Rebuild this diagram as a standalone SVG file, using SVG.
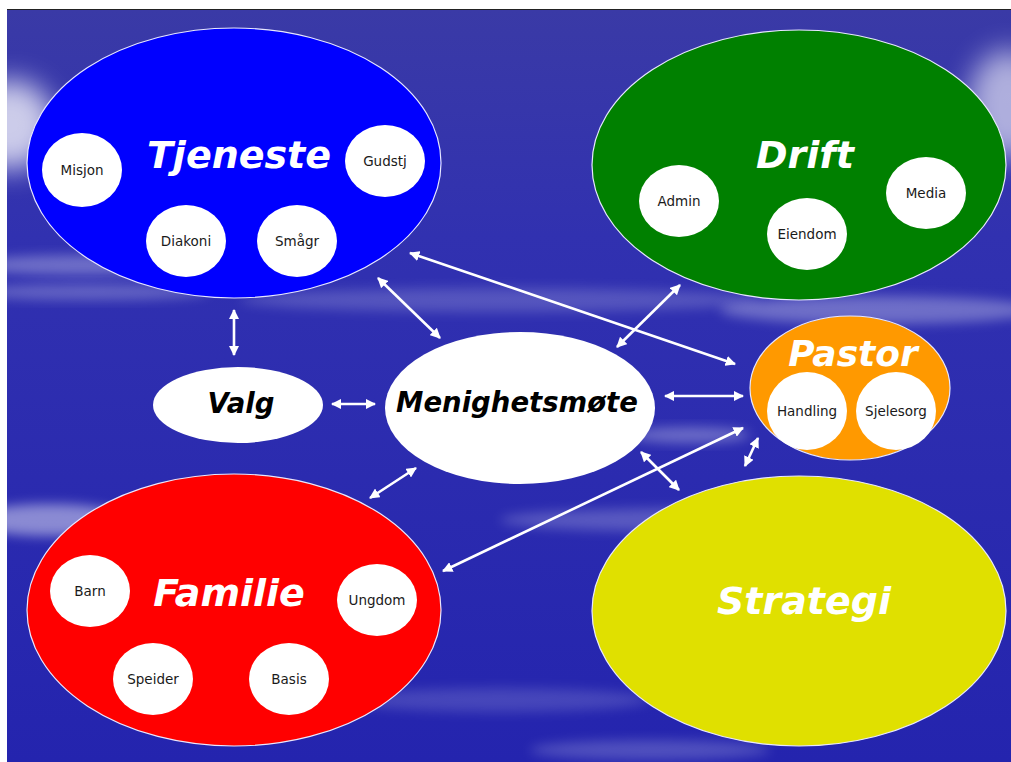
<svg xmlns="http://www.w3.org/2000/svg" width="1011" height="762" viewBox="0 0 1011 762">
<style>
.big{font-family:"DejaVu Sans",Verdana,sans-serif;font-weight:bold;font-style:italic;text-anchor:middle;fill:#fff}
.blk{fill:#000}
.sm{font-family:"DejaVu Sans",Verdana,sans-serif;font-size:13.5px;text-anchor:middle;fill:#1a1a1a}
.sub{fill:#fff}
.main{stroke:#e8e8ff;stroke-width:1.2}
.con{stroke:#fff;stroke-width:2.6;fill:none;marker-start:url(#ah);marker-end:url(#ah)}
</style>
<defs>
<linearGradient id="bg" x1="0" y1="0" x2="0" y2="1">
<stop offset="0" stop-color="#3a3aa6"/>
<stop offset="0.3" stop-color="#3131b0"/>
<stop offset="1" stop-color="#2424ae"/>
</linearGradient>
<filter id="blur" x="-50%" y="-50%" width="200%" height="200%"><feGaussianBlur stdDeviation="6"/></filter>
<filter id="blur2" x="-50%" y="-50%" width="200%" height="200%"><feGaussianBlur stdDeviation="14"/></filter>
<marker id="ah" viewBox="0 0 10 10" refX="9" refY="5" markerWidth="4" markerHeight="4" orient="auto-start-reverse" markerUnits="strokeWidth">
<path d="M0,0 L10,5 L0,10 Z" fill="#fff"/>
</marker>
</defs>
<rect x="0" y="0" width="1011" height="762" fill="#fff"/>
<rect x="7" y="9" width="1004" height="753" fill="url(#bg)"/>
<line x1="7" y1="9.5" x2="1011" y2="9.5" stroke="#222" stroke-width="1"/>
<g id="clouds" fill="#fff">
<ellipse cx="10" cy="125" rx="45" ry="45" opacity="0.75" filter="url(#blur2)"/>
<ellipse cx="1008" cy="105" rx="40" ry="55" opacity="0.6" filter="url(#blur2)"/>
<ellipse cx="80" cy="265" rx="110" ry="10" opacity="0.3" filter="url(#blur)"/>
<ellipse cx="90" cy="292" rx="120" ry="8" opacity="0.25" filter="url(#blur)"/>
<ellipse cx="500" cy="300" rx="260" ry="12" opacity="0.18" filter="url(#blur)"/>
<ellipse cx="880" cy="310" rx="160" ry="14" opacity="0.3" filter="url(#blur)"/>
<ellipse cx="50" cy="520" rx="80" ry="16" opacity="0.45" filter="url(#blur)"/>
<ellipse cx="690" cy="435" rx="60" ry="8" opacity="0.3" filter="url(#blur)"/>
<ellipse cx="700" cy="520" rx="200" ry="12" opacity="0.22" filter="url(#blur)"/>
<ellipse cx="500" cy="700" rx="150" ry="12" opacity="0.15" filter="url(#blur)"/>
<ellipse cx="650" cy="750" rx="120" ry="10" opacity="0.2" filter="url(#blur)"/>
</g>
<g id="connectors">
<line class="con" x1="234" y1="310" x2="234" y2="355"/>
<line class="con" x1="332" y1="404" x2="375" y2="404"/>
<line class="con" x1="378" y1="278" x2="440" y2="338"/>
<line class="con" x1="410" y1="253" x2="735" y2="364"/>
<line class="con" x1="680" y1="285" x2="617" y2="347"/>
<line class="con" x1="665" y1="396" x2="743" y2="396"/>
<line class="con" x1="370" y1="498" x2="416" y2="468"/>
<line class="con" x1="443" y1="571" x2="743" y2="428"/>
<line class="con" x1="641" y1="452" x2="679" y2="490"/>
<line class="con" x1="745" y1="466" x2="758" y2="438"/>
</g>
<g id="tjeneste">
<ellipse class="main" cx="234" cy="163" rx="207" ry="135" fill="#0000ff"/>
<text class="big" x="239" y="168" font-size="38">Tjeneste</text>
<g id="misjon"><ellipse class="sub" cx="82" cy="170" rx="40" ry="37"/><text class="sm" x="82" y="175">Misjon</text></g>
<g id="gudstj"><ellipse class="sub" cx="385" cy="161" rx="40" ry="36"/><text class="sm" x="385" y="166">Gudstj</text></g>
<g id="diakoni"><ellipse class="sub" cx="186" cy="241" rx="40" ry="36"/><text class="sm" x="186" y="246">Diakoni</text></g>
<g id="smagr"><ellipse class="sub" cx="297" cy="241" rx="40" ry="36"/><text class="sm" x="297" y="246">Smågr</text></g>
</g>
<g id="drift">
<ellipse class="main" cx="799" cy="165" rx="207" ry="135" fill="#008000"/>
<text class="big" x="805" y="168" font-size="38">Drift</text>
<g id="admin"><ellipse class="sub" cx="679" cy="201" rx="40" ry="36"/><text class="sm" x="679" y="206">Admin</text></g>
<g id="eiendom"><ellipse class="sub" cx="807" cy="234" rx="40" ry="36"/><text class="sm" x="807" y="239">Eiendom</text></g>
<g id="media"><ellipse class="sub" cx="926" cy="193" rx="40" ry="36"/><text class="sm" x="926" y="198">Media</text></g>
</g>
<g id="familie">
<ellipse class="main" cx="234" cy="610" rx="207" ry="136" fill="#ff0000"/>
<text class="big" x="229" y="606" font-size="38">Familie</text>
<g id="barn"><ellipse class="sub" cx="90" cy="591" rx="40" ry="36"/><text class="sm" x="90" y="596">Barn</text></g>
<g id="ungdom"><ellipse class="sub" cx="377" cy="600" rx="40" ry="36"/><text class="sm" x="377" y="605">Ungdom</text></g>
<g id="speider"><ellipse class="sub" cx="153" cy="679" rx="40" ry="36"/><text class="sm" x="153" y="684">Speider</text></g>
<g id="basis"><ellipse class="sub" cx="289" cy="679" rx="40" ry="36"/><text class="sm" x="289" y="684">Basis</text></g>
</g>
<g id="strategi">
<ellipse class="main" cx="799" cy="611" rx="207" ry="135" fill="#e0e000"/>
<text class="big" x="804" y="614" font-size="38">Strategi</text>
</g>
<g id="pastor">
<ellipse class="main" cx="850" cy="388" rx="100" ry="72" fill="#ff9900"/>
<text class="big" x="853" y="366" font-size="36">Pastor</text>
<g id="handling"><ellipse class="sub" cx="807" cy="411" rx="40" ry="39"/><text class="sm" x="807" y="416">Handling</text></g>
<g id="sjelesorg"><ellipse class="sub" cx="896" cy="411" rx="40" ry="39"/><text class="sm" x="896" y="416">Sjelesorg</text></g>
</g>
<g id="menighetsmote">
<ellipse cx="520" cy="408" rx="135" ry="76" fill="#fff"/>
<text class="big blk" x="517" y="412" font-size="27.5">Menighetsmøte</text>
</g>
<g id="valg">
<ellipse cx="238" cy="405" rx="85" ry="38" fill="#fff"/>
<text class="big blk" x="241" y="413" font-size="27.5">Valg</text>
</g>
</svg>
